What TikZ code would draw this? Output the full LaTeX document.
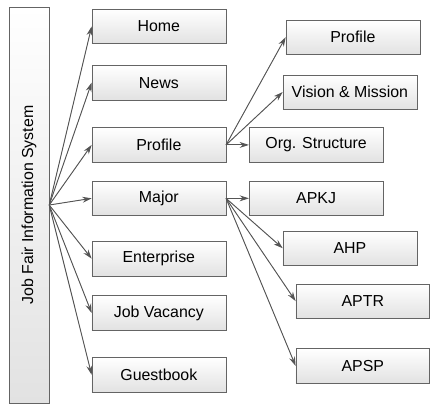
\documentclass[tikz,border=0pt]{standalone}
\usepackage{fontspec}
\setmainfont{Liberation Sans}
\usetikzlibrary{arrows, arrows.meta, calc, positioning}
\definecolor{edgegray}{RGB}{100,100,100}
\definecolor{linegray}{RGB}{85,85,85}
\definecolor{shadegray}{RGB}{226,226,226}
\tikzstyle{menu} = [rectangle, draw=edgegray, top color=white, bottom color=shadegray, minimum width=101pt, minimum height=26pt, inner sep=0pt, text centered, font=\fontsize{12}{14}\selectfont]
\tikzstyle{system} = [menu, minimum width=30pt, minimum height=298.5pt]
\tikzstyle{arrow} = [->, >={Stealth[length=7pt,width=4.5pt]}, draw=linegray, fill=linegray, line width=0.7pt]

\begin{document}
\begin{tikzpicture}
		\node (System) [system] {\rotatebox{90}{Job Fair Information System}};
		% first level
		\node (Home) [menu, below right = 1.5pt and 32pt of System.north east] {Home};
		\node (News) [menu, below = 16pt of Home] {News};
		\node (Profile) [menu, below = 20.6pt of News] {Profile};
		\node (Major) [menu, below = 13.9pt of Profile] {Major};
		\node (Enterprise) [menu, below = 19.1pt of Major] {Enterprise};
		\node (JobVacancy) [menu, below = 14.6pt of Enterprise] {Job Vacancy};
		\node (Guestbook) [menu, below = 20.25pt of JobVacancy] {Guestbook};
		% second level, profile
		\node (OrgStructure) [menu, right = 17.25pt of Profile] {Org. Structure};
		\node (VisionMission) [menu, above = 13.5pt of OrgStructure, xshift=25.5pt] {Vision \& Mission};
		\node (ProfileSub) [menu, above = 15pt of VisionMission, xshift=2.25pt] {Profile};
		% second level, major
		\node (APKJ) [menu, right = 17.25pt of Major] {APKJ};
		\node (AHP) [menu, below = 11.25pt of APKJ, xshift=25.5pt] {AHP};
		\node (APTR) [menu, below = 13.5pt of AHP, xshift=9.75pt] {APTR};
		\node (APSP) [menu, below = 22.5pt of APTR] {APSP};
		\draw [arrow] (System.east) -- (Home.west);
		\draw [arrow] (System.east) -- (News.west);
		\draw [arrow] (System.east) -- (Profile.west);
		\draw [arrow] (System.east) -- (Major.west);
		\draw [arrow] (System.east) -- (Enterprise.west);
		\draw [arrow] (System.east) -- (JobVacancy.west);
		\draw [arrow] (System.east) -- (Guestbook.west);
		\draw [arrow] (Profile.east) -- (ProfileSub.west);
		\draw [arrow] (Profile.east) -- (VisionMission.west);
		\draw [arrow] (Profile.east) -- (OrgStructure.west);
		\draw [arrow] (Major.east) -- (APKJ.west);
		\draw [arrow] (Major.east) -- (AHP.west);
		\draw [arrow] (Major.east) -- (APTR.west);
		\draw [arrow] (Major.east) -- (APSP.west);
		\useasboundingbox ($(System.north west)+(-6.75pt,5.25pt)$) rectangle ++(322.5pt,-305.25pt);
\end{tikzpicture}
\end{document}
